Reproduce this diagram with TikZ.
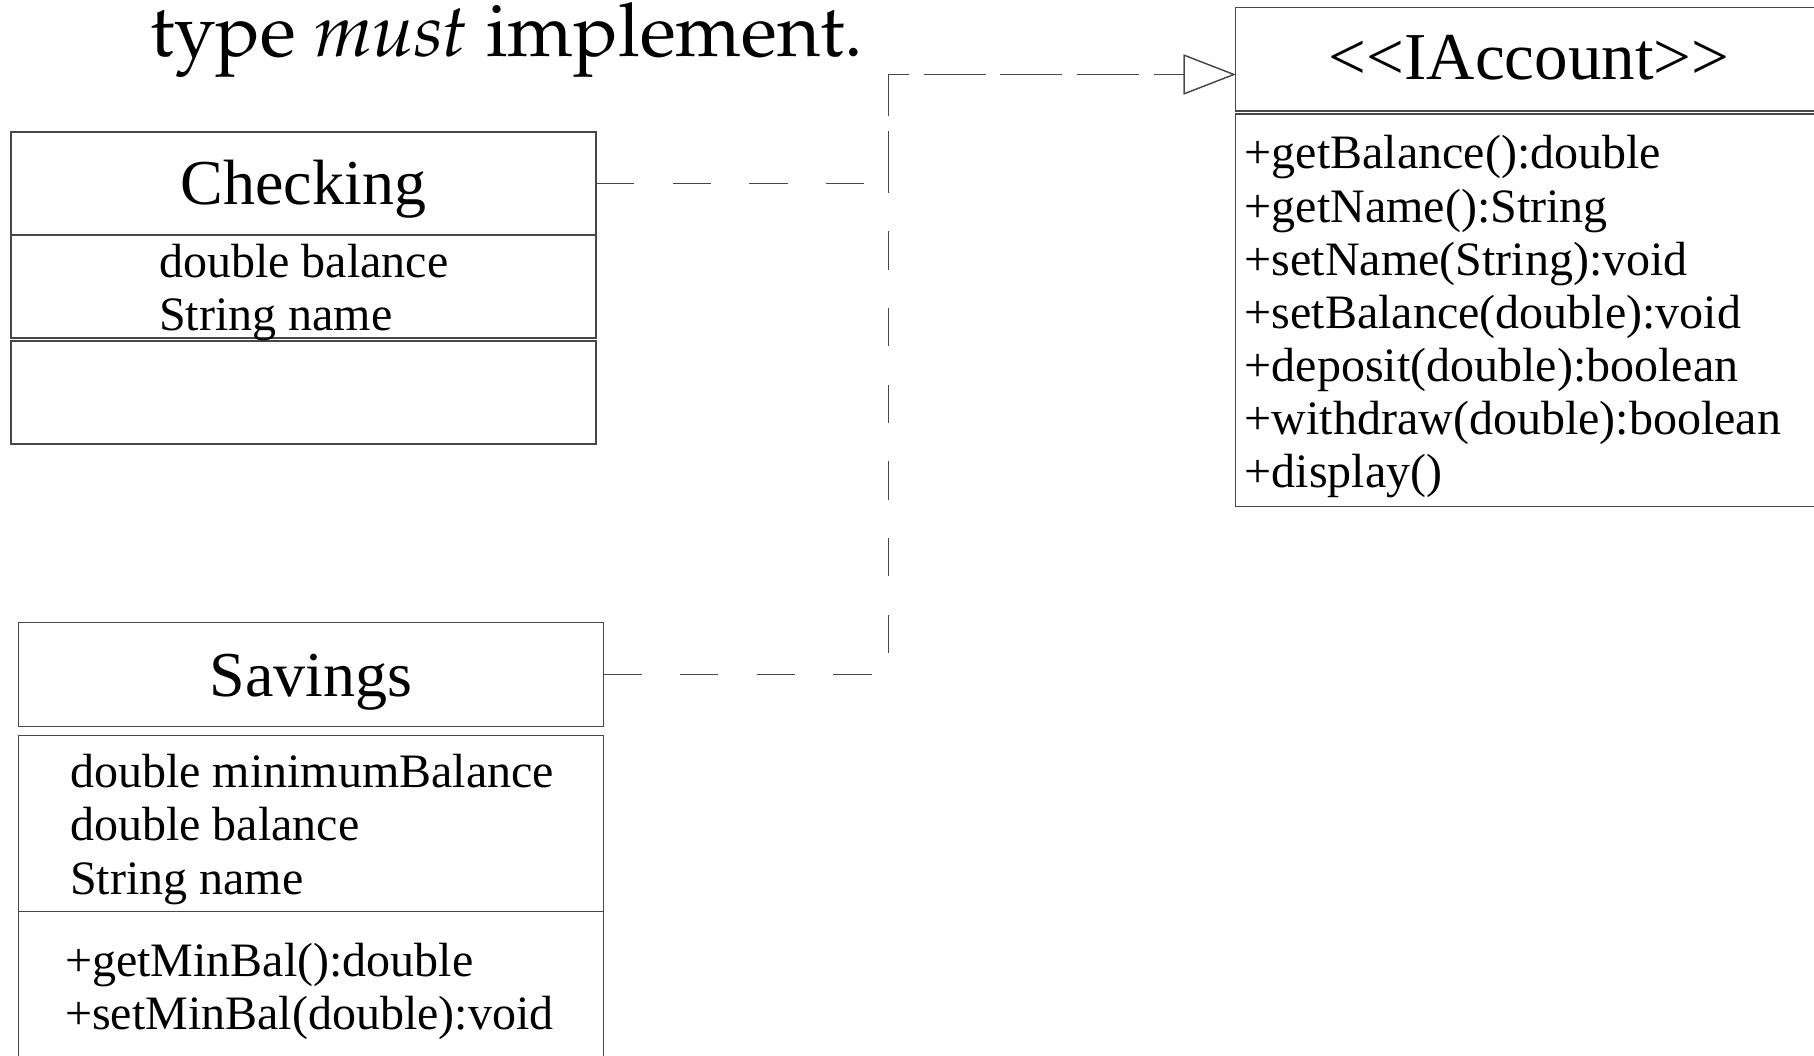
\documentclass[tikz,border=0pt]{standalone}
\usepackage[T1]{fontenc}
\usepackage{fontspec}
\setmainfont{Liberation Serif}
\usetikzlibrary{arrows.meta}
% Palatino for the running caption line
\newcommand\captionfont{\fontencoding{T1}\fontfamily{ppl}\selectfont}

\begin{document}
\begin{tikzpicture}[x=1pt,y=-1pt,
  box/.style={draw=black!72, line width=1.3pt, fill=white, inner sep=0pt, outer sep=0pt, anchor=north west},
  member/.style={anchor=base west, inner sep=0pt, font=\fontsize{48}{53}\selectfont},
  classname/.style={anchor=base, inner sep=0pt, font=\fontsize{64}{70}\selectfont},
  realize/.style={draw=black!72, line width=1.3pt, dash pattern=on 38.35pt off 38.35pt,
    -{Triangle[length=52pt, width=40pt, line width=1.3pt, fill=white]}}]
\clip (0,0) rectangle (1814,1056);
\useasboundingbox (0,0) rectangle (1814,1056);

% caption line
\node[anchor=base west, inner sep=0pt, font=\captionfont\fontsize{74.4}{84}\selectfont]
  (caption) at (150,57) {type \textit{must} implement.};

% class Checking
\node[box, minimum width=585pt, minimum height=103pt] (chkT) at (11,132) {};
\node[box, minimum width=585pt, minimum height=103pt] (chkA) at (11,235) {};
\node[box, minimum width=585pt, minimum height=103pt] (chkM) at (11,341) {};
\node[classname] (chkName) at (303.5,205) {Checking};
\node[member] (chkA1) at (159,277.3) {double balance};
\node[member] (chkA2) at (159,330.6) {String name};

% class Savings
\node[box, minimum width=584.7pt, minimum height=104pt] (savT) at (18.6,622.7) {};
\node[box, minimum width=584.7pt, minimum height=176pt] (savA) at (18.6,735.7) {};
\node[box, minimum width=584.7pt, minimum height=180pt] (savM) at (18.6,911.7) {};
\node[classname] (savName) at (311,696) {Savings};
\node[member] (savA1) at (70,787.3) {double minimumBalance};
\node[member] (savA2) at (70,840.6) {double balance};
\node[member] (savA3) at (70,894) {String name};
\node[member] (savM1) at (65,976.3) {+getMinBal():double};
\node[member] (savM2) at (65,1029.6) {+setMinBal(double):void};

% interface IAccount
\node[box, minimum width=587pt, minimum height=103.7pt] (iacT) at (1235.5,7.3) {};
\node[box, minimum width=587pt, minimum height=392.7pt] (iacM) at (1235.5,114) {};
\node[classname, font=\fontsize{67}{72}\selectfont] (iacName) at (1529,80) {<{}<IAccount>{}>};
\foreach \txt [count=\i from 0] in {+getBalance():double, +getName():String,
    +setName(String):void, +setBalance(double):void, +deposit(double):boolean,
    +withdraw(double):boolean, +display()}
  \node[member] (iacM\i) at (1244.5,169+53.1*\i) {\txt};

% realization connectors
\coordinate (bend) at (888.5,74.5);
\draw[realize] (chkT.east) -| (bend) -- (iacT.west |- bend);
\draw[realize] (savT.east) -| (bend) -- (iacT.west |- bend);
\end{tikzpicture}
\end{document}
